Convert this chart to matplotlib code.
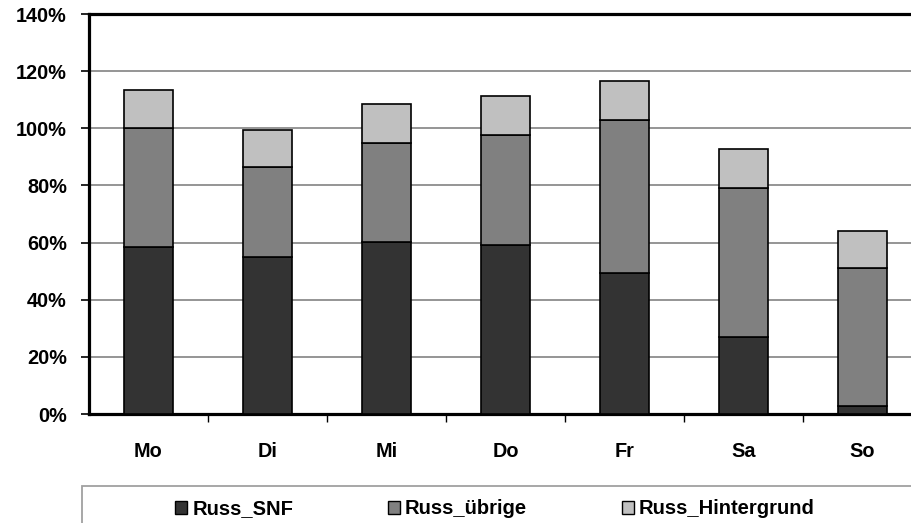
import matplotlib
matplotlib.use('Agg')
import matplotlib.pyplot as plt
from matplotlib.patches import Patch, Rectangle
from matplotlib.ticker import FixedLocator, FuncFormatter
import numpy as np

days = ['Mo', 'Di', 'Mi', 'Do', 'Fr', 'Sa', 'So']
series_names = ['Russ_SNF', 'Russ_übrige', 'Russ_Hintergrund']
russ_snf = [58.5, 55.0, 60.2, 59.0, 49.5, 27.0, 2.9]
russ_uebrige = [41.5, 31.4, 34.8, 38.6, 53.3, 52.0, 48.1]
russ_hintergrund = [13.5, 13.0, 13.5, 13.7, 13.6, 13.6, 13.0]
colors = ['#333333', '#808080', '#c0c0c0']

plt.rcParams['font.family'] = ['Liberation Sans', 'DejaVu Sans']
plt.rcParams['font.weight'] = 'bold'
FS = 14.3

fig = plt.figure(figsize=(9.12, 5.23), dpi=100)
W, H = 912, 523
ax = fig.add_axes([89 / W, (H - 414) / H, 833 / W, 400 / H])

x = np.arange(len(days)) + 0.5
bottom = np.zeros(len(days))
for vals, name, c in zip([russ_snf, russ_uebrige, russ_hintergrund], series_names, colors):
    ax.bar(x, vals, width=0.41, bottom=bottom, color=c, edgecolor='black',
           linewidth=1.2, label=name, zorder=3)
    bottom += np.array(vals)

ax.set_xlim(0, 7)
ax.set_ylim(0, 140)
ax.set_yticks(np.arange(0, 141, 20))
ax.yaxis.set_major_formatter(FuncFormatter(lambda v, p: '%d%%' % v))
ax.yaxis.grid(True, color='#8c8c8c', linewidth=1.3, zorder=0)
ax.set_axisbelow(True)

ax.set_xticks(x)
ax.set_xticklabels(days)
ax.xaxis.set_minor_locator(FixedLocator(np.arange(1, 8)))
ax.tick_params(axis='x', which='major', length=0, pad=20, labelsize=FS)
ax.tick_params(axis='x', which='minor', length=6, width=1, direction='out')
ax.tick_params(axis='y', length=6, width=1.2, direction='out', pad=10, labelsize=FS)

for s in ['left', 'top', 'bottom']:
    ax.spines[s].set_linewidth(2.3)
    ax.spines[s].set_color('black')
ax.spines['right'].set_visible(False)

# legend frame running off the figure edge
fig.patches.append(Rectangle((82 / W, -0.1), 1.0, (H - 486) / H + 0.1,
                             transform=fig.transFigure, fill=False,
                             edgecolor='#a0a0a0', linewidth=1.3))
handles = [Patch(facecolor=c, edgecolor='black', linewidth=1) for c in colors]
fig.legend(handles, series_names, loc='center left',
           bbox_to_anchor=(165 / W, (H - 509) / H), ncol=3, frameon=False,
           fontsize=14.5, handlelength=0.6, handleheight=0.6,
           handletextpad=0.25, columnspacing=4.7, borderpad=0)

fig.savefig('out.png', dpi=100)
